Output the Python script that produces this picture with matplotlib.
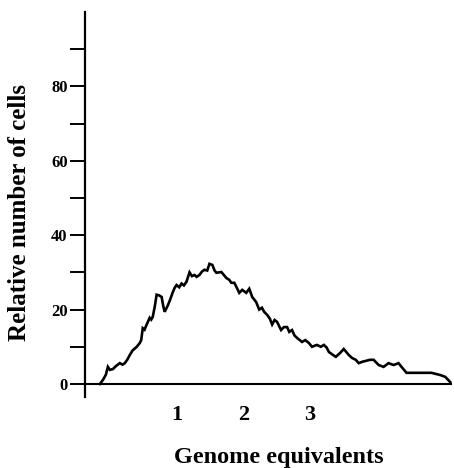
import numpy as np
import matplotlib
matplotlib.use('Agg')
import matplotlib.pyplot as plt

plt.rcParams['font.family'] = ['Liberation Serif', 'DejaVu Serif']

# genome equivalents vs relative number of cells
genome = [-0.149, -0.10, -0.060, -0.030, 0.000, 0.045, 0.090, 0.149, 0.190, 0.224,
          0.260, 0.299, 0.340, 0.403, 0.448, 0.470, 0.493, 0.520, 0.552, 0.597,
          0.620, 0.642, 0.672, 0.701, 0.740, 0.776, 0.800, 0.821, 0.866, 0.900,
          0.940, 0.970, 1.000, 1.040, 1.075, 1.110, 1.149, 1.194, 1.230, 1.269,
          1.300, 1.343, 1.380, 1.418, 1.460, 1.493, 1.537, 1.570, 1.597, 1.672,
          1.700, 1.746, 1.790, 1.821, 1.866, 1.900, 1.940, 1.985, 2.045, 2.090,
          2.134, 2.194, 2.239, 2.280, 2.313, 2.358, 2.400, 2.433, 2.470, 2.507,
          2.567, 2.610, 2.657, 2.690, 2.731, 2.770, 2.806, 2.881, 2.930, 2.985,
          3.030, 3.104, 3.164, 3.209, 3.250, 3.284, 3.330, 3.388, 3.450, 3.507,
          3.582, 3.630, 3.687, 3.731, 3.790, 3.836, 3.900, 3.955, 4.030, 4.104,
          4.179, 4.254, 4.328, 4.373, 4.448, 4.627, 4.821, 4.955, 5.030, 5.104]
cells = [0.0, 1.2, 2.5, 4.6, 3.8, 4.0, 4.8, 5.6, 5.2, 5.6,
         6.5, 7.8, 9.0, 10.0, 11.0, 11.8, 15.0, 14.6, 16.0, 17.8,
         17.3, 18.0, 20.7, 24.0, 23.8, 23.4, 21.0, 19.4, 21.0, 22.5,
         24.5, 25.8, 26.6, 26.0, 27.0, 26.5, 27.5, 30.0, 29.0, 29.3,
         28.8, 29.3, 30.2, 30.7, 30.5, 32.3, 32.0, 30.5, 29.9, 30.1,
         29.5, 28.5, 28.0, 27.2, 27.2, 26.0, 24.5, 25.3, 24.5, 25.6,
         23.4, 22.0, 20.0, 20.5, 19.4, 18.6, 17.5, 16.0, 17.2, 16.7,
         14.5, 15.3, 15.3, 14.0, 14.5, 13.0, 12.4, 11.3, 11.8, 11.0,
         10.0, 10.5, 10.0, 10.5, 9.8, 8.6, 8.0, 7.3, 8.3, 9.4,
         7.8, 7.0, 6.5, 5.6, 6.0, 6.2, 6.5, 6.5, 5.1, 4.6,
         5.6, 5.1, 5.6, 4.6, 3.0, 3.0, 3.0, 2.4, 1.9, 0.5]

yticks_major = [0, 20, 40, 60, 80]
yticks_minor = [10, 30, 50, 70, 90]
xticks = [1, 2, 3]

fig = plt.figure(figsize=(4.54, 4.68), dpi=100)
ax = fig.add_axes([85/454, 71/468, 367/454, 385/468])

ax.plot(genome, cells, color='black', linewidth=1.9, solid_joinstyle='miter')
ax.axhline(0, color='black', linewidth=1.5, zorder=3)

ax.set_xlim(-0.373, 5.13)
ax.set_ylim(-3.5, 100)

for s in ['top', 'right', 'bottom']:
    ax.spines[s].set_visible(False)
ax.spines['left'].set_linewidth(1.6)

ax.set_yticks(yticks_major)
ax.set_yticks(yticks_minor, minor=True)
ax.set_yticklabels([str(v) for v in yticks_major], fontsize=12, weight='bold')
ax.tick_params(axis='y', which='both', length=11, width=1.4, direction='out', pad=1.5)

ax.set_xticks(xticks)
ax.set_xticklabels([str(v) for v in xticks], fontsize=16, weight='bold')
ax.tick_params(axis='x', length=0, pad=6)

ax.set_xlabel('Genome equivalents', fontsize=17.5, weight='bold')
ax.set_ylabel('Relative number of cells', fontsize=18, weight='bold')
ax.xaxis.set_label_coords(0.529, -0.13)
ax.yaxis.set_label_coords(-0.147, 0.478)

fig.savefig('out.png', dpi=100)
